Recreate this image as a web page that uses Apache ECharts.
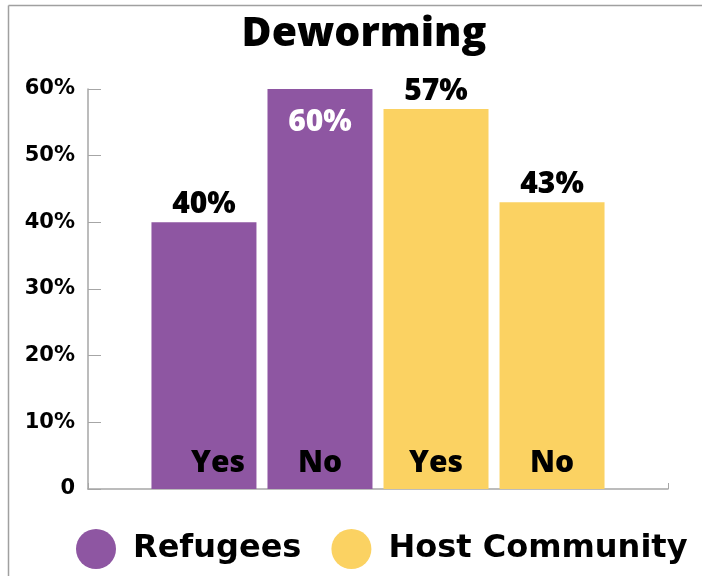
<!DOCTYPE html>
<html>
<head>
<meta charset="utf-8">
<script src="https://cdn.jsdelivr.net/npm/echarts@6/dist/echarts.min.js"></script>
<style>
html,body{margin:0;padding:0;background:#fff;}
#c{width:702px;height:576px;}
</style>
</head>
<body>
<div id="c"></div>
<script>
var titleText = 'Deworming';
var groups = ['Refugees', 'Refugees', 'Host Community', 'Host Community'];
var answers = ['Yes', 'No', 'Yes', 'No'];
var values = [40, 60, 57, 43];
var yTicks = [0, 10, 20, 30, 40, 50, 60];
var legendNames = ['Refugees', 'Host Community'];
var groupColors = {'Refugees': '#8E56A2', 'Host Community': '#FBD262'};

var FONT = '"Open Sans", Lato, sans-serif';
var WEIGHT = 800;

var series = values.map(function (v, i) {
  var inside = (v === 60);
  return {
    name: groups[i],
    type: 'bar',
    barWidth: 105,
    barGap: '10.5%',
    itemStyle: { color: groupColors[groups[i]] },
    data: [v],
    label: {
      show: true,
      position: 'insideBottom',
      distance: 11,
      offset: [i === 0 ? 14 : 0, 0],
      formatter: answers[i],
      color: '#000',
      fontFamily: FONT,
      fontWeight: WEIGHT,
      fontSize: 30
    },
    markPoint: {
      symbol: 'rect',
      symbolSize: 1,
      itemStyle: { color: 'transparent' },
      data: [{ type: 'max' }],
      label: {
        show: true,
        position: 'inside',
        offset: [0, inside ? 33 : -18],
        formatter: function (p) { return p.value + '%'; },
        color: inside ? '#fff' : '#000',
        fontFamily: FONT,
        fontWeight: WEIGHT,
        fontSize: 30
      }
    }
  };
});

var chart = echarts.init(document.getElementById('c'));
chart.setOption({
  animation: false,
  backgroundColor: '#fff',
  title: {
    text: titleText,
    left: 364,
    textAlign: 'center',
    top: 14,
    padding: 0,
    textStyle: { fontFamily: FONT, fontWeight: WEIGHT, fontSize: 41, color: '#000' }
  },
  legend: {
    data: legendNames,
    left: 76,
    top: 529,
    padding: 0,
    icon: 'circle',
    itemWidth: 40,
    itemHeight: 40,
    itemGap: 30,
    textStyle: { fontFamily: '"DejaVu Sans", sans-serif', fontWeight: 'bold', fontSize: 32, color: '#000', padding: [0, 0, 0, 12] }
  },
  grid: { left: 88, right: 34, top: 89, bottom: 87, containLabel: false },
  xAxis: {
    type: 'category',
    data: [''],
    axisLine: { lineStyle: { color: '#a6a6a6', width: 1.5 } },
    axisTick: { show: true, inside: true, length: 6, lineStyle: { color: '#a6a6a6' } },
    axisLabel: { show: false }
  },
  yAxis: {
    type: 'value',
    min: yTicks[0],
    max: yTicks[yTicks.length - 1],
    interval: 10,
    splitLine: { show: false },
    axisLine: { show: true, lineStyle: { color: '#a6a6a6', width: 1.5 } },
    axisTick: { show: true, inside: true, length: 13, lineStyle: { color: '#a6a6a6' } },
    axisLabel: {
      margin: 13,
      formatter: function (v) { return v === 0 ? '0' : v + '%'; },
      fontFamily: '"DejaVu Sans", sans-serif',
      fontWeight: 'bold',
      fontSize: 21,
      color: '#000'
    }
  },
  graphic: [
    { type: 'line', shape: { x1: 8.5, y1: 5.5, x2: 702, y2: 5.5 }, style: { stroke: '#a0a0a0', lineWidth: 1.5 } },
    { type: 'line', shape: { x1: 8.5, y1: 5.5, x2: 8.5, y2: 576 }, style: { stroke: '#a0a0a0', lineWidth: 1.5 } }
  ],
  series: series
});
</script>
</body>
</html>
